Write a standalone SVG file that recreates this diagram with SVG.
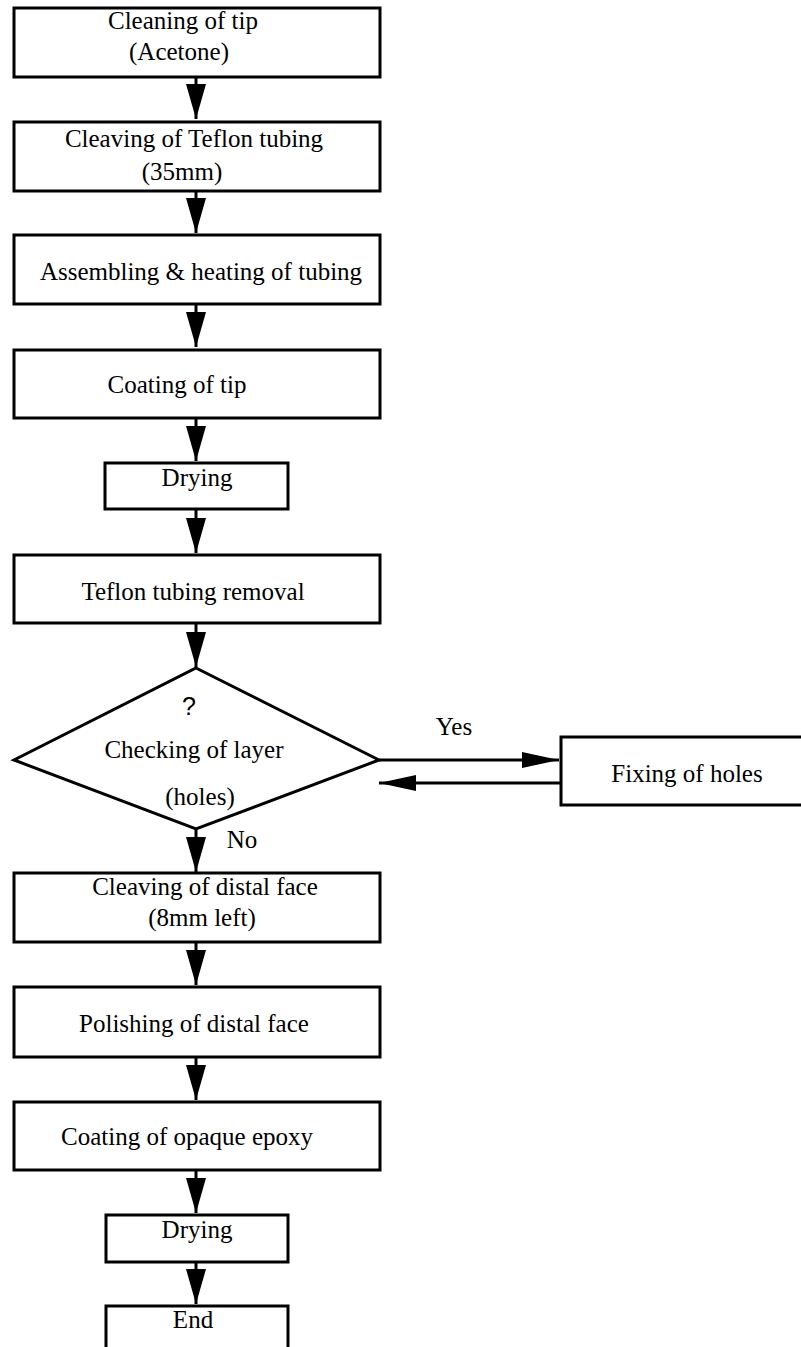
<svg xmlns="http://www.w3.org/2000/svg" width="801" height="1347" viewBox="0 0 801 1347">
<style>
  .box { fill: #fff; stroke: #000; stroke-width: 3; }
  .t { font-family: "Liberation Serif", "Times New Roman", serif; font-size: 25px; fill: #000; text-anchor: middle; }
  .q { font-family: "Liberation Sans", Arial, sans-serif; font-size: 25px; fill: #000; text-anchor: middle; }
  .c { fill: none; stroke: #000; stroke-width: 3; }
</style>
<defs>
  <marker id="ah" markerUnits="userSpaceOnUse" markerWidth="36" markerHeight="21" refX="35" refY="10" orient="auto">
    <path d="M0,0 L35,10 L0,20 Z" fill="#000"/>
  </marker>
  <marker id="ahh" markerUnits="userSpaceOnUse" markerWidth="38" markerHeight="17" refX="37" refY="8" orient="auto">
    <path d="M0,0 L37,8 L0,16 Z" fill="#000"/>
  </marker>
</defs>
<rect width="801" height="1347" fill="#fff"/>
<g id="connectors">
  <line class="c" x1="196" y1="77" x2="196" y2="119" marker-end="url(#ah)"/>
  <line class="c" x1="196" y1="191" x2="196" y2="233" marker-end="url(#ah)"/>
  <line class="c" x1="196" y1="304" x2="196" y2="347" marker-end="url(#ah)"/>
  <line class="c" x1="196" y1="418" x2="196" y2="461" marker-end="url(#ah)"/>
  <line class="c" x1="196" y1="509" x2="196" y2="553" marker-end="url(#ah)"/>
  <line class="c" x1="196" y1="623" x2="196" y2="667" marker-end="url(#ah)"/>
  <line class="c" x1="379" y1="760" x2="559" y2="760" marker-end="url(#ahh)"/>
  <line class="c" x1="561" y1="783" x2="379" y2="783" marker-end="url(#ahh)"/>
  <line class="c" x1="196" y1="829" x2="196" y2="872" marker-end="url(#ah)"/>
  <line class="c" x1="196" y1="942" x2="196" y2="985" marker-end="url(#ah)"/>
  <line class="c" x1="196" y1="1057" x2="196" y2="1100" marker-end="url(#ah)"/>
  <line class="c" x1="196" y1="1170" x2="196" y2="1213" marker-end="url(#ah)"/>
  <line class="c" x1="196" y1="1262" x2="196" y2="1304" marker-end="url(#ah)"/>
  <text class="t" x="454" y="735">Yes</text>
  <text class="t" x="242" y="848">No</text>
</g>
<g id="n1">
  <rect class="box" x="14" y="8" width="366" height="69"/>
  <text class="t" x="183" y="29">Cleaning of tip</text>
  <text class="t" x="179" y="60">(Acetone)</text>
</g>
<g id="n2">
  <rect class="box" x="14" y="122" width="366" height="69"/>
  <text class="t" x="194" y="147">Cleaving of Teflon tubing</text>
  <text class="t" x="182" y="180">(35mm)</text>
</g>
<g id="n3">
  <rect class="box" x="14" y="235" width="366" height="69"/>
  <text class="t" x="201" y="280">Assembling &amp; heating of tubing</text>
</g>
<g id="n4">
  <rect class="box" x="14" y="350" width="366" height="68"/>
  <text class="t" x="177" y="393">Coating of tip</text>
</g>
<g id="n5">
  <rect class="box" x="105" y="463" width="183" height="46"/>
  <text class="t" x="197" y="486">Drying</text>
</g>
<g id="n6">
  <rect class="box" x="14" y="555" width="366" height="68"/>
  <text class="t" x="193" y="600">Teflon tubing removal</text>
</g>
<g id="n7">
  <polygon class="box" points="196,668 379,760 196,829 14,760"/>
  <text class="q" x="189" y="715">?</text>
  <text class="t" x="194" y="758">Checking of layer</text>
  <text class="t" x="200" y="805">(holes)</text>
</g>
<g id="n8">
  <rect class="box" x="561" y="737" width="250" height="68"/>
  <text class="t" x="687" y="782">Fixing of holes</text>
</g>
<g id="n9">
  <rect class="box" x="14" y="873" width="366" height="69"/>
  <text class="t" x="205" y="895">Cleaving of distal face</text>
  <text class="t" x="202" y="926">(8mm left)</text>
</g>
<g id="n10">
  <rect class="box" x="14" y="987" width="366" height="70"/>
  <text class="t" x="194" y="1032">Polishing of distal face</text>
</g>
<g id="n11">
  <rect class="box" x="14" y="1102" width="366" height="68"/>
  <text class="t" x="187" y="1145">Coating of opaque epoxy</text>
</g>
<g id="n12">
  <rect class="box" x="106" y="1215" width="182" height="47"/>
  <text class="t" x="197" y="1238">Drying</text>
</g>
<g id="n13">
  <rect class="box" x="106" y="1306" width="182" height="60"/>
  <text class="t" x="193" y="1328">End</text>
</g>
</svg>
